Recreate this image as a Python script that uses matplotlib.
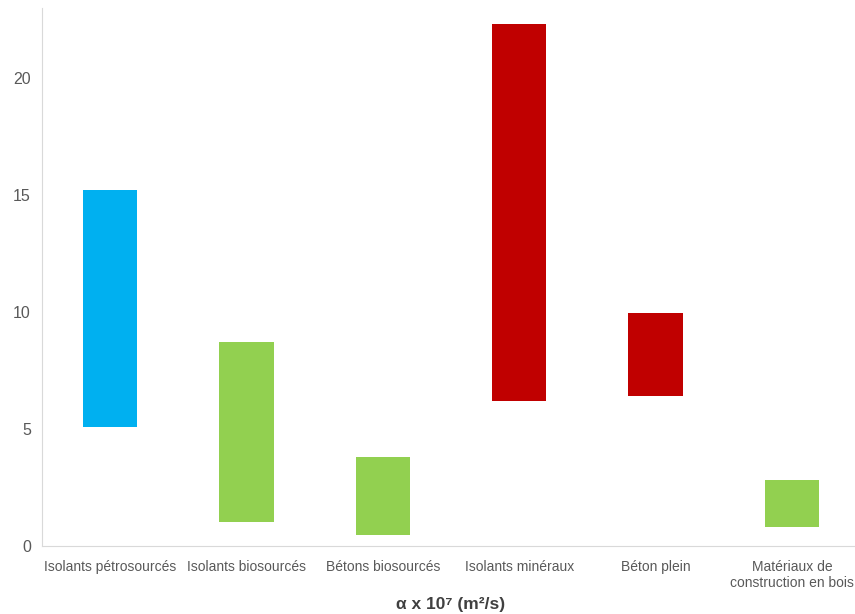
import matplotlib.pyplot as plt
import numpy as np

plt.rcParams['font.family'] = ['Liberation Sans', 'DejaVu Sans']

# Données : plages de diffusivité thermique (alpha x 10^7, m²/s)
categories = ["Isolants pétrosourcés", "Isolants biosourcés", "Bétons biosourcés",
              "Isolants minéraux", "Béton plein", "Matériaux de\nconstruction en bois"]
bas = [5.1, 1.03, 0.47, 6.2, 6.4, 0.81]
haut = [15.2, 8.72, 3.8, 22.3, 9.96, 2.82]
couleurs = ["#00B0F0", "#92D050", "#92D050", "#C00000", "#C00000", "#92D050"]

fig = plt.figure(figsize=(8.55, 6.14), dpi=100)
ax = fig.add_axes([0.049, 0.111, 0.957, 0.876])

x = np.arange(len(categories))
ax.bar(x, np.array(haut) - np.array(bas), bottom=bas, width=0.4, color=couleurs)

ax.set_xlim(-0.5, len(categories) - 0.5)
ax.set_ylim(0, 23)
ax.set_yticks([0, 5, 10, 15, 20])
ax.set_xticks(x)
ax.set_xticklabels(categories, linespacing=1.2)

# Axes
for s in ['top', 'right']:
    ax.spines[s].set_visible(False)
for s in ['left', 'bottom']:
    ax.spines[s].set_color('#D9D9D9')
ax.tick_params(axis='y', length=0, labelsize=11.5, colors='#595959', pad=8)
ax.tick_params(axis='x', length=0, labelsize=10, colors='#595959', pad=10)

ax.set_xlabel("α x 10⁷ (m²/s)", fontsize=12.5, fontweight='bold', color='#404040', labelpad=5)

fig.savefig("out.png", dpi=100)
